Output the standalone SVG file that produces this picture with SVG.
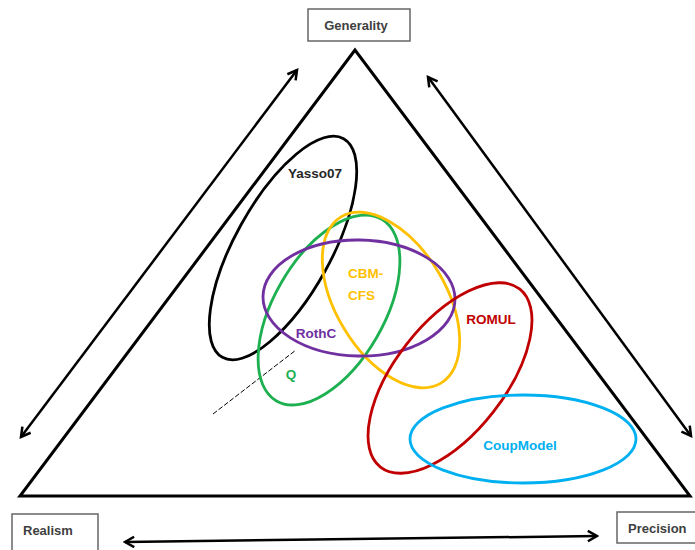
<svg xmlns="http://www.w3.org/2000/svg" width="695" height="550" viewBox="0 0 695 550">
<defs>
<style>
.box{fill:#fff;stroke:#666;stroke-width:1.5}
.lbl{font-family:"Liberation Sans",Arial,sans-serif;font-weight:bold;font-size:13px;fill:#404040}
.mlbl{font-family:"Liberation Sans",Arial,sans-serif;font-weight:bold;font-size:13.5px}
.ell{fill:none;stroke-width:2.8}
.arr{fill:none;stroke:#000;stroke-width:2.5;marker-start:url(#ah);marker-end:url(#ah)}
</style>
<marker id="ah" viewBox="0 0 12 12" refX="10" refY="6" markerWidth="5.5" markerHeight="5.5" orient="auto-start-reverse" markerUnits="strokeWidth">
<polyline points="2,1.5 10,6 2,10.5" fill="none" stroke="#000" stroke-width="2.2"/>
</marker>
</defs>
<rect width="695" height="550" fill="#fff"/>
<g id="triangle">
<polygon points="355,50 20,496 690,496" fill="none" stroke="#000" stroke-width="3" stroke-linejoin="miter"/>
</g>
<g id="connectors">
<line class="arr" x1="21" y1="437" x2="297" y2="70"/>
<line class="arr" x1="428" y1="77" x2="691" y2="436"/>
<line class="arr" x1="125" y1="542" x2="597" y2="536"/>
<line x1="213" y1="414" x2="296" y2="350" stroke="#000" stroke-width="1" stroke-dasharray="5,2"/>
</g>
<g id="generality">
<rect class="box" x="308" y="9" width="102" height="32"/>
<text class="lbl" x="356" y="30" text-anchor="middle">Generality</text>
</g>
<g id="realism">
<rect class="box" x="12" y="514" width="86" height="40"/>
<text class="lbl" x="23" y="535">Realism</text>
</g>
<g id="precision">
<rect class="box" x="617" y="512" width="82" height="31"/>
<text class="lbl" x="628" y="533">Precision</text>
</g>
<g id="yasso07">
<ellipse class="ell" cx="283" cy="248" rx="125" ry="48" transform="rotate(-61 283 248)" stroke="#000"/>
<text class="mlbl" x="315" y="178" text-anchor="middle" fill="#262626">Yasso07</text>
</g>
<g id="q">
<ellipse class="ell" cx="329" cy="310" rx="105" ry="55" transform="rotate(-60 329 310)" stroke="#1DB050"/>
<text class="mlbl" x="291" y="379" text-anchor="middle" fill="#1DB050">Q</text>
</g>
<g id="cbm-cfs">
<ellipse class="ell" cx="391" cy="300" rx="97" ry="55" transform="rotate(59 391 300)" stroke="#FFC000"/>
<text class="mlbl" x="348" y="278" fill="#FFC000">CBM-</text>
<text class="mlbl" x="348" y="300" fill="#FFC000">CFS</text>
</g>
<g id="rothc">
<ellipse class="ell" cx="359" cy="298" rx="96" ry="58" transform="rotate(1 359 298)" stroke="#7030A0"/>
<text class="mlbl" x="316" y="338" text-anchor="middle" fill="#7030A0">RothC</text>
</g>
<g id="romul">
<ellipse class="ell" cx="450" cy="378" rx="113" ry="55" transform="rotate(-52 450 378)" stroke="#C00000"/>
<text class="mlbl" x="491" y="324" text-anchor="middle" fill="#C00000">ROMUL</text>
</g>
<g id="coupmodel">
<ellipse class="ell" cx="523" cy="439" rx="113" ry="44" stroke="#00B0F0"/>
<text class="mlbl" x="520" y="450" text-anchor="middle" fill="#00B0F0">CoupModel</text>
</g>
</svg>
